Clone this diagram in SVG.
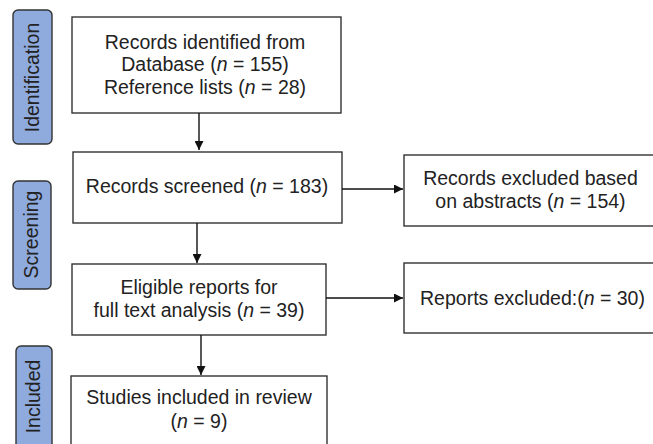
<svg xmlns="http://www.w3.org/2000/svg" width="653" height="444" viewBox="0 0 653 444">
<defs>
<marker id="ah" viewBox="0 0 10 10" refX="10" refY="5" markerWidth="9" markerHeight="9" markerUnits="userSpaceOnUse" orient="auto">
<path d="M0,0 L10,5 L0,10 Z" fill="#111"/>
</marker>
</defs>
<style>
.box{fill:#fff;stroke:#333;stroke-width:1.4}
.lab{fill:#8faadc;stroke:#333;stroke-width:1.4}
.t{font-family:"Liberation Sans",Arial,sans-serif;font-size:19.5px;fill:#222;text-anchor:middle}
.i{font-style:italic}
.c{stroke:#111;stroke-width:1.4;fill:none;marker-end:url(#ah)}
</style>
<rect width="653" height="444" fill="#fff"/>
<g id="label-identification">
<rect class="lab" x="13" y="10" width="39" height="134" rx="5"/>
<text class="t" transform="translate(38.5,77.5) rotate(-90)">Identification</text>
</g>
<g id="label-screening">
<rect class="lab" x="13" y="181" width="38" height="108" rx="5"/>
<text class="t" transform="translate(38,234.5) rotate(-90)">Screening</text>
</g>
<g id="label-included">
<rect class="lab" x="16" y="346" width="36" height="110" rx="5"/>
<text class="t" transform="translate(40,396.5) rotate(-90)">Included</text>
</g>
<g id="n-identified">
<rect class="box" x="72" y="17" width="269" height="96"/>
<text class="t" x="205" y="48.5">Records identified from</text>
<text class="t" x="205" y="71">Database (<tspan class="i">n</tspan> = 155)</text>
<text class="t" x="205" y="93.5">Reference lists (<tspan class="i">n</tspan> = 28)</text>
</g>
<g id="n-screened">
<rect class="box" x="73" y="152" width="269" height="71"/>
<text class="t" x="207" y="193">Records screened (<tspan class="i">n</tspan> = 183)</text>
</g>
<g id="n-excluded-abstracts">
<rect class="box" x="404" y="155" width="260" height="71"/>
<text class="t" x="530.5" y="185">Records excluded based</text>
<text class="t" x="530.5" y="208">on abstracts (<tspan class="i">n</tspan> = 154)</text>
</g>
<g id="n-eligible">
<rect class="box" x="72" y="264" width="254" height="71"/>
<text class="t" x="199" y="293.5">Eligible reports for</text>
<text class="t" x="199" y="316.5">full text analysis (<tspan class="i">n</tspan> = 39)</text>
</g>
<g id="n-excluded-reports">
<rect class="box" x="404" y="263" width="260" height="70"/>
<text class="t" x="532.5" y="305">Reports excluded:(<tspan class="i">n</tspan> = 30)</text>
</g>
<g id="n-included">
<rect class="box" x="71" y="376" width="256" height="80"/>
<text class="t" x="199" y="404">Studies included in review</text>
<text class="t" x="199" y="428">(<tspan class="i">n</tspan> = 9)</text>
</g>
<g id="connectors">
<line class="c" x1="199" y1="113" x2="199" y2="150"/>
<line class="c" x1="197" y1="223" x2="197" y2="263"/>
<line class="c" x1="201" y1="335" x2="201" y2="375"/>
<line class="c" x1="342" y1="189" x2="403" y2="189"/>
<line class="c" x1="326" y1="298" x2="403" y2="298"/>
</g>
</svg>
